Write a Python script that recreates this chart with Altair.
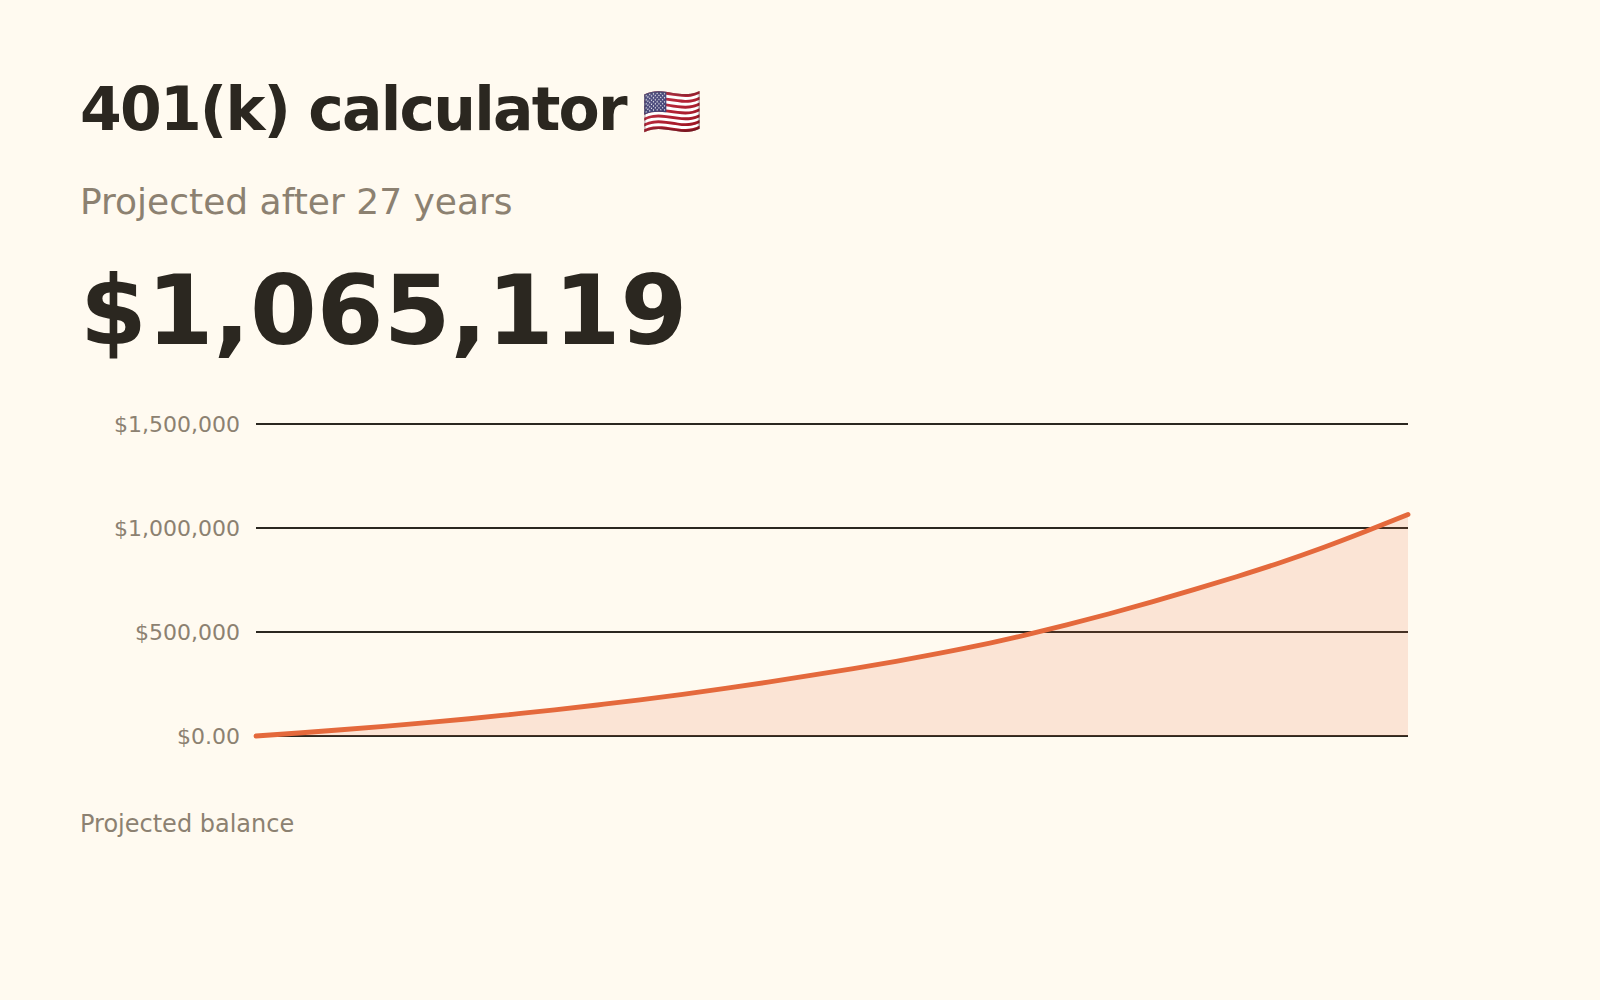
import altair as alt
import pandas as pd

BG = "#fffaf0"
INK = "#2b2720"
MUTED = "#8c8171"
ACCENT = "#e4693c"
FONT = "DejaVu Sans"

years = list(range(28))
balance = [0, 14500, 30000, 46500, 64000, 83000, 104000, 125500, 149000, 173500,
           200500, 229000, 259000, 291000, 324000, 359000, 397000, 438000, 484000,
           534000, 588000, 645000, 705000, 767000, 833000, 905000, 983000, 1065119]
y_ticks = [0, 500000, 1000000, 1500000]
title_text = ["401(k) calculator"]
flag_text = ["\U0001F1FA\U0001F1F8"]
subtitle_text = ["Projected after 27 years"]
total_text = ["$1,065,119"]
caption_text = ["Projected balance"]

df = pd.DataFrame({"year": years, "balance": balance})

x_enc = alt.X("year:Q", scale=alt.Scale(domain=[0, 27], nice=False, zero=False), axis=None)
y_enc = alt.Y(
    "balance:Q",
    scale=alt.Scale(domain=[0, 1500000], nice=False),
    axis=alt.Axis(
        values=y_ticks, title=None, domain=False, ticks=False, translate=0,
        grid=True, gridColor=INK, gridWidth=2, gridOpacity=1,
        labelFont=FONT, labelFontSize=22, labelColor=MUTED, labelPadding=16, labelOffset=1,
        labelExpr="datum.value == 0 ? '$0.00' : format(datum.value, '$,.0f')",
    ),
)

area = alt.Chart(df).mark_area(color=ACCENT, opacity=0.15, interpolate="monotone").encode(x=x_enc, y=y_enc)
line = alt.Chart(df).mark_line(color=ACCENT, strokeWidth=4.8, strokeCap="round", clip=False,
                               interpolate="monotone").encode(x=x_enc, y=y_enc)


def label(values, px, py, size, color, weight="normal"):
    return (
        alt.Chart(pd.DataFrame({"t": values}))
        .mark_text(align="left", baseline="alphabetic", font=FONT, fontSize=size, color=color, fontWeight=weight)
        .encode(x=alt.value(px), y=alt.value(py), text="t:N")
    )


chart = (
    alt.layer(
        area, line,
        label(title_text, -176, -294, 60, INK, "bold"),
        label(flag_text, 386, -296, 48, INK),
        label(subtitle_text, -176, -210, 36, MUTED),
        label(total_text, -176, -80, 96, INK, "bold"),
        label(caption_text, -176, 408, 24, MUTED),
    )
    .properties(
        width=1152, height=312, background=BG,
        padding={"left": 248, "top": 416, "right": 184, "bottom": 240},
        autosize=alt.AutoSizeParams(type="none"),
    )
    .configure_view(stroke=None)
)

page_css = ("body{background:#fffaf0}"
            'svg text[style*="60px"],svg text[font-size*="60"]{letter-spacing:-1.8px}')
chart.save("out.html", embed_options={"renderer": "svg", "actions": False, "defaultStyle": page_css})
